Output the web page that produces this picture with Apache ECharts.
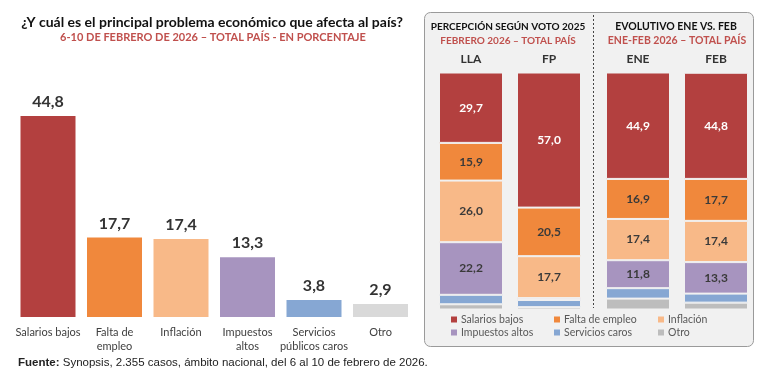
<!DOCTYPE html>
<html>
<head>
<meta charset="utf-8">
<script src="https://cdn.jsdelivr.net/npm/echarts@6/dist/echarts.min.js"></script>
<style>
html, body { margin: 0; padding: 0; background: #fff; }
#chart { width: 780px; height: 375px; }
</style>
</head>
<body>
<div id="chart"></div>
<script>
// datos: problema principal, total país (%)
var problemas = ['Salarios bajos', 'Falta de\nempleo', 'Inflación', 'Impuestos\naltos', 'Servicios\npúblicos caros', 'Otro'];
var totalPais = [44.8, 17.7, 17.4, 13.3, 3.8, 2.9];

// panel derecho
var votoCats = ['LLA', 'FP'];
var mesCats = ['ENE', 'FEB'];
var serieNombres = ['Salarios bajos', 'Falta de empleo', 'Inflación', 'Impuestos altos', 'Servicios caros', 'Otro'];
var salariosVoto = [29.7, 57.0];
var empleoVoto = [15.9, 20.5];
var inflacionVoto = [26.0, 17.7];
var impuestosVoto = [22.2, 0.8];
var serviciosVoto = [4.0, 3.0];
var otroVoto = [2.2, 1.0];
var salariosMes = [44.9, 44.8];
var empleoMes = [16.9, 17.7];
var inflacionMes = [17.4, 17.4];
var impuestosMes = [11.8, 13.3];
var serviciosMes = [4.4, 3.8];
var otroMes = [4.6, 2.9];

var porVoto = [salariosVoto, empleoVoto, inflacionVoto, impuestosVoto, serviciosVoto, otroVoto];
var porMes = [salariosMes, empleoMes, inflacionMes, impuestosMes, serviciosMes, otroMes];

var colores = ['#b3403f', '#f0883c', '#f8b988', '#a794bf', '#86a7d3', '#d9d9d9'];
var coloresPanel = ['#b3403f', '#f0883c', '#f8b988', '#a794bf', '#86a7d3', '#bdbdbd'];

var fuente = 'Lato, "Open Sans", sans-serif';

function coma(v) {
  return v.toFixed(1).replace('.', ',');
}

var myChart = echarts.init(document.getElementById('chart'));

var series = [];
series.push({
  type: 'bar',
  xAxisIndex: 0,
  yAxisIndex: 0,
  barWidth: 55,
  data: totalPais.map(function (v, i) {
    return { value: v, itemStyle: { color: colores[i] } };
  }),
  label: {
    show: true,
    position: 'top',
    distance: 6,
    fontFamily: fuente,
    fontSize: 16,
    fontWeight: 'bold',
    color: '#333',
    formatter: function (p) { return coma(p.value); }
  }
});

function stackSerie(nombre, idx, datos, eje, stack) {
  return {
    name: nombre,
    type: 'bar',
    stack: stack,
    xAxisIndex: eje,
    yAxisIndex: eje,
    barWidth: 64,
    data: datos,
    itemStyle: { color: coloresPanel[idx], borderColor: '#f1f1f1', borderWidth: 1 },
    label: {
      show: true,
      fontFamily: fuente,
      fontSize: 12,
      fontWeight: 'bold',
      color: idx === 0 ? '#fff' : '#3a3a3a',
      formatter: function (p) { return p.value >= 10 ? coma(p.value) : ''; }
    }
  };
}

// se apila desde abajo: Otro primero, Salarios bajos arriba
for (var i = serieNombres.length - 1; i >= 0; i--) {
  series.push(stackSerie(serieNombres[i], i, porVoto[i], 1, 'voto'));
  series.push(stackSerie(serieNombres[i], i, porMes[i], 2, 'mes'));
}

// leyenda: 3 columnas x 2 filas
var legendX = [451, 554, 658];
var legendY = [314, 327];
var legends = serieNombres.map(function (n, i) {
  return {
    data: [n],
    left: legendX[i % 3],
    top: legendY[Math.floor(i / 3)],
    padding: 0,
    icon: 'rect',
    itemWidth: 6,
    itemHeight: 6,
    itemGap: 0,
    selectedMode: false,
    itemStyle: { borderWidth: 0 },
    textStyle: { fontFamily: fuente, fontSize: 10.5, color: '#595959', padding: [0, 0, 0, -1] }
  };
});

var topAxis = {
  type: 'category',
  position: 'top',
  axisLine: { show: false },
  axisTick: { show: false },
  axisLabel: { fontFamily: fuente, fontSize: 12, fontWeight: 'bold', color: '#333', margin: 7 }
};

var option = {
  animation: false,
  grid: [
    { left: 14.75, width: 399, top: 92.6, height: 224.4 },
    { left: 432, width: 156, top: 72.5, height: 237 },
    { left: 599, width: 156, top: 72.5, height: 237 }
  ],
  xAxis: [
    {
      type: 'category',
      gridIndex: 0,
      data: problemas,
      axisLine: { show: false },
      axisTick: { show: false },
      axisLabel: { fontFamily: fuente, fontSize: 11, lineHeight: 14, color: '#404040', margin: 8, interval: 0 }
    },
    Object.assign({ gridIndex: 1, data: votoCats }, topAxis),
    Object.assign({ gridIndex: 2, data: mesCats }, topAxis)
  ],
  yAxis: [
    { type: 'value', gridIndex: 0, min: 0, max: 50, show: false },
    { type: 'value', gridIndex: 1, min: 0, max: 100, show: false },
    { type: 'value', gridIndex: 2, min: 0, max: 100, show: false }
  ],
  legend: legends,
  graphic: [
    {
      type: 'rect', z: 0,
      shape: { x: 424.5, y: 12.5, width: 329, height: 334, r: 6 },
      style: { fill: '#f1f1f1', stroke: '#9a9a9a', lineWidth: 1 }
    },
    {
      type: 'line', z: 1,
      shape: { x1: 593.5, y1: 15, x2: 593.5, y2: 308 },
      style: { stroke: '#444', lineWidth: 1, lineDash: [2, 2] }
    },
    {
      type: 'text', x: 212, y: 22,
      style: { text: '¿Y cuál es el principal problema económico que afecta al país?', fontFamily: fuente, fontSize: 14, fontWeight: 'bold', fill: '#111', align: 'center', verticalAlign: 'middle' }
    },
    {
      type: 'text', x: 213, y: 37,
      style: { text: '6-10 DE FEBRERO DE 2026 – TOTAL PAÍS - EN PORCENTAJE', fontFamily: fuente, fontSize: 11, fontWeight: 'bold', fill: '#c0504d', align: 'center', verticalAlign: 'middle' }
    },
    {
      type: 'text', x: 508, y: 27,
      style: { text: 'PERCEPCIÓN SEGÚN VOTO 2025', fontFamily: fuente, fontSize: 10, fontWeight: 'bold', fill: '#111', align: 'center', verticalAlign: 'middle' }
    },
    {
      type: 'text', x: 508, y: 41,
      style: { text: 'FEBRERO 2026 – TOTAL PAÍS', fontFamily: fuente, fontSize: 10, fontWeight: 'bold', fill: '#c0504d', align: 'center', verticalAlign: 'middle' }
    },
    {
      type: 'text', x: 676, y: 27,
      style: { text: 'EVOLUTIVO ENE VS. FEB', fontFamily: fuente, fontSize: 10.5, fontWeight: 'bold', fill: '#111', align: 'center', verticalAlign: 'middle' }
    },
    {
      type: 'text', x: 677, y: 41,
      style: { text: 'ENE-FEB 2026 – TOTAL PAÍS', fontFamily: fuente, fontSize: 10.5, fontWeight: 'bold', fill: '#c0504d', align: 'center', verticalAlign: 'middle' }
    },
    {
      type: 'text', x: 18, y: 363,
      style: {
        text: '{b|Fuente:} Synopsis, 2.355 casos, ámbito nacional, del 6 al 10 de febrero de 2026.',
        fontFamily: '"Liberation Sans", Arial, sans-serif', fontSize: 11.5, fill: '#222', verticalAlign: 'middle',
        rich: { b: { fontFamily: '"Liberation Sans", Arial, sans-serif', fontSize: 11.5, fontWeight: 'bold', fill: '#222' } }
      }
    }
  ],
  series: series
};

myChart.setOption(option);
</script>
</body>
</html>
